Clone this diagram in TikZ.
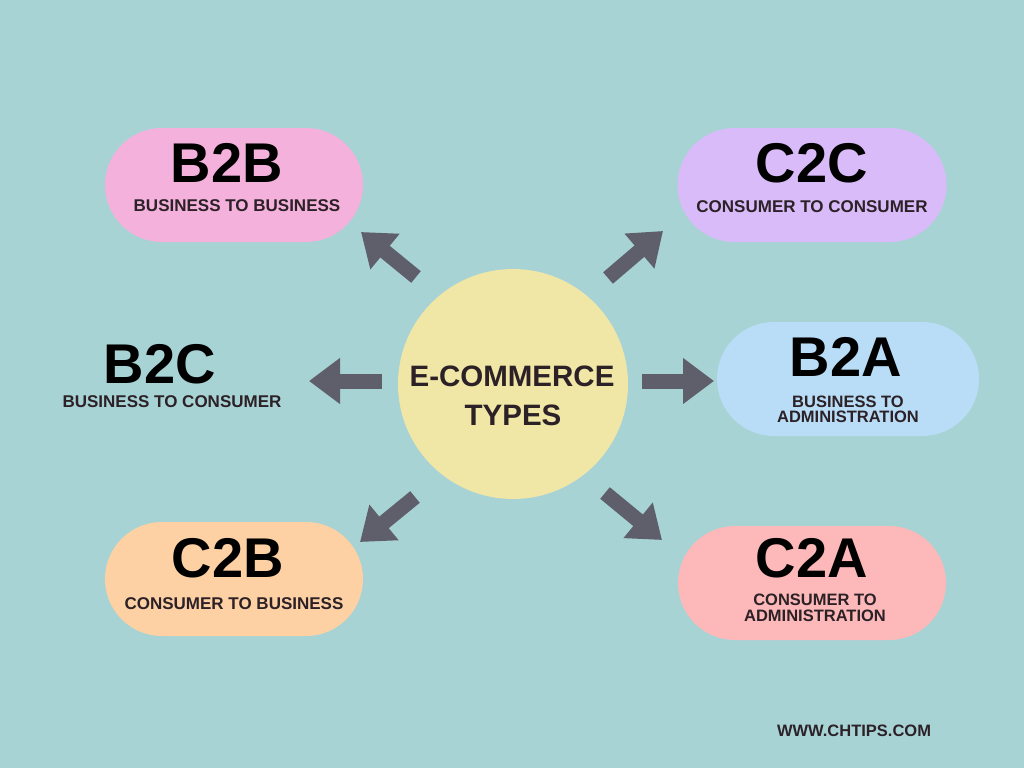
\documentclass[tikz,border=0pt]{standalone}
\usepackage{fontspec}
\setmainfont{Liberation Sans}
\usetikzlibrary{arrows.meta}
\definecolor{bg}{HTML}{A8D3D5}
\definecolor{pinkB}{HTML}{F3B1DB}
\definecolor{lav}{HTML}{D9BBF9}
\definecolor{blueB}{HTML}{B9DDF7}
\definecolor{peach}{HTML}{FED1A5}
\definecolor{salmon}{HTML}{FDB9B9}
\definecolor{yel}{HTML}{F0E6A6}
\definecolor{arrc}{HTML}{5F5E6B}
\definecolor{subt}{HTML}{2B2126}
\tikzset{
  pill/.style={rounded corners=57pt, minimum height=114pt, inner sep=0pt, draw=none},
  big/.style={anchor=base, inner sep=0pt, font=\fontsize{56}{56}\selectfont\bfseries, text=black},
  sub/.style={anchor=base, inner sep=0pt, font=\fontsize{17}{17}\selectfont\bfseries, text=subt},
  sub2/.style={anchor=base, inner sep=0pt, font=\fontsize{16.5}{16.5}\selectfont\bfseries, text=subt},
  ctr/.style={anchor=base, inner sep=0pt, font=\fontsize{29.5}{29.5}\selectfont\bfseries, text=subt},
  arr/.style={draw=arrc, line width=15pt, -{Triangle[length=31pt,width=44pt]}, fill=arrc}
}
\begin{document}
\begin{tikzpicture}[x=1pt,y=-1pt]
\fill[bg] (0,0) rectangle (1024,768);
\useasboundingbox (0,0) rectangle (1024,768);

% pills
\node[pill, fill=pinkB, minimum width=258pt] (p1) at (234,185) {};
\node[pill, fill=lav, minimum width=269pt] (p2) at (812,185) {};
\node[pill, fill=blueB, minimum width=262pt] (p3) at (848,379) {};
\node[pill, fill=peach, minimum width=258pt] (p4) at (234,579) {};
\node[pill, fill=salmon, minimum width=268pt] (p5) at (812,583) {};
\node[circle, fill=yel, minimum size=230pt, inner sep=0pt] (c) at (513,384) {};

% titles
\node[big] (t1) at (227,182) {B2B};
\node[sub] (s1) at (237,211) {BUSINESS TO BUSINESS};
\node[big] (t2) at (812,182) {C2C};
\node[sub] (s2) at (812,212) {CONSUMER TO CONSUMER};
\node[big] (t3) at (160,383) {B2C};
\node[sub] (s3) at (172,407) {BUSINESS TO CONSUMER};
\node[big] (t4) at (846,376) {B2A};
\node[sub2] (s4a) at (848,407) {BUSINESS TO};
\node[sub2] (s4b) at (848,422) {ADMINISTRATION};
\node[big] (t5) at (228,577) {C2B};
\node[sub] (s5) at (234,609) {CONSUMER TO BUSINESS};
\node[big] (t6) at (812,577) {C2A};
\node[sub2] (s6a) at (815,605) {CONSUMER TO};
\node[sub2] (s6b) at (815,621) {ADMINISTRATION};
\node[ctr] (ct1) at (512,386) {E-COMMERCE};
\node[ctr] (ct2) at (513,425) {TYPES};
\node[anchor=base, inner sep=0pt, font=\fontsize{16.5}{16.5}\selectfont\bfseries, text=subt] (w) at (854,736) {WWW.CHTIPS.COM};

% arrows
\coordinate (a1) at (416,277); \coordinate (b1) at (361,232);
\coordinate (a2) at (608,278); \coordinate (b2) at (663,231);
\coordinate (a3) at (382,381); \coordinate (b3) at (309,381);
\coordinate (a4) at (642,381); \coordinate (b4) at (714,381);
\coordinate (a5) at (415,497); \coordinate (b5) at (360,542);
\coordinate (a6) at (605,493); \coordinate (b6) at (662,540);
\foreach \i in {1,...,6} { \draw[arr] (a\i) -- (b\i); }
\end{tikzpicture}
\end{document}
